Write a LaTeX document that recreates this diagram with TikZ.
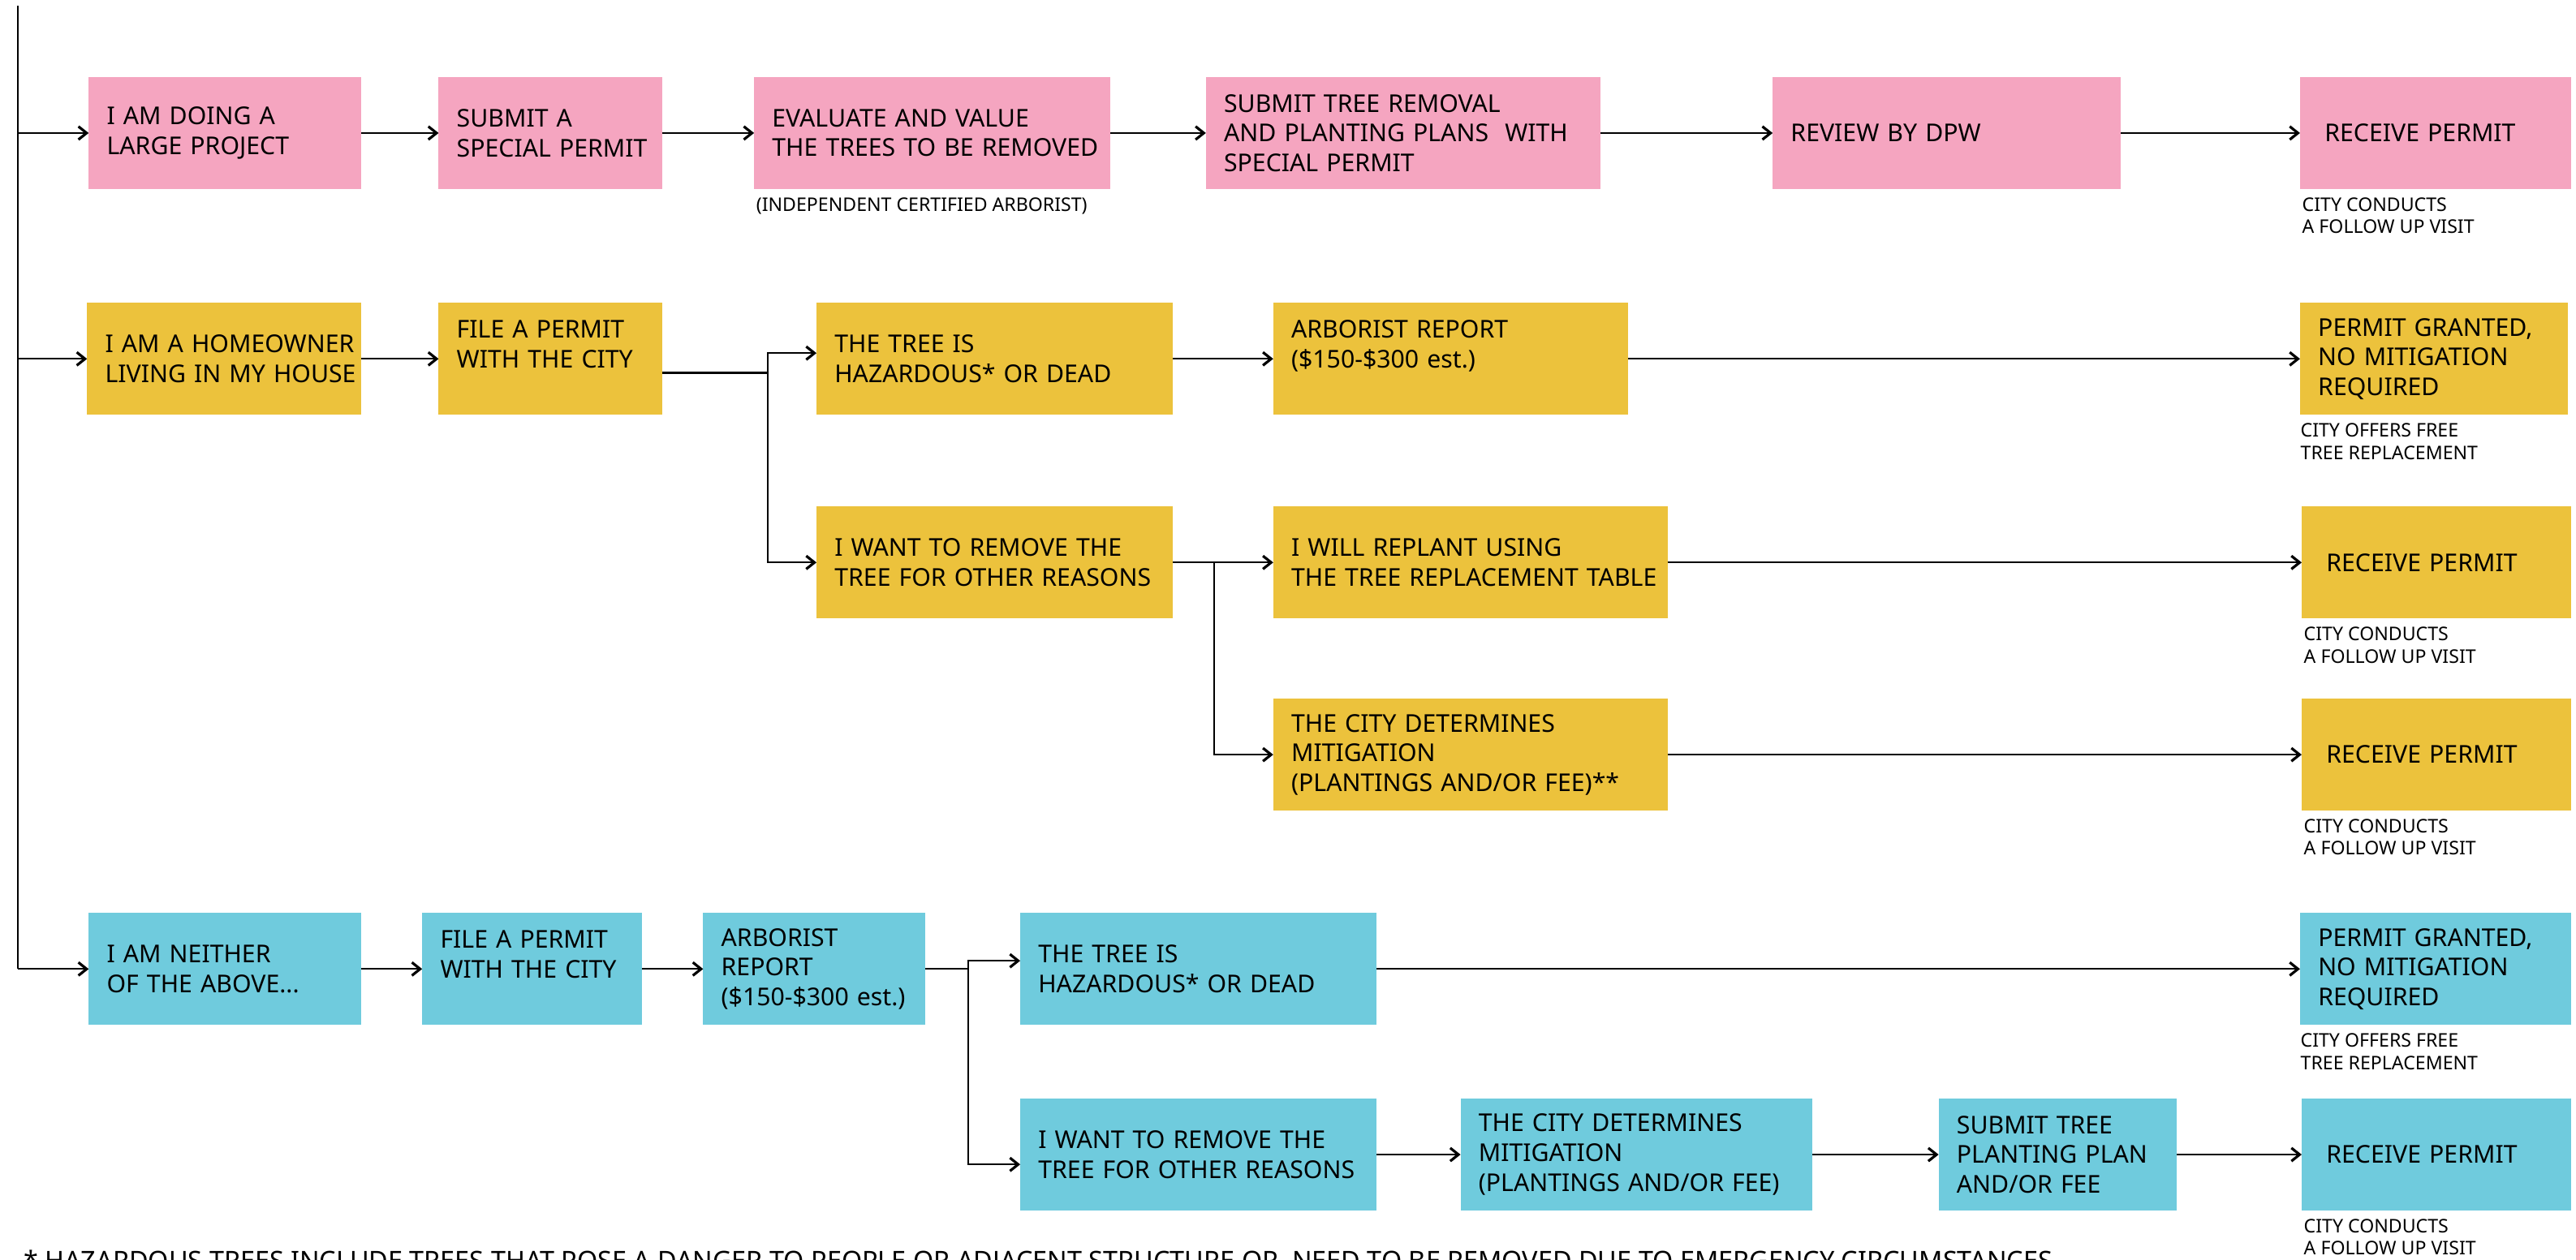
\documentclass[tikz,border=0pt]{standalone}
\usepackage{fontspec}
\setmainfont{Noto Sans}
\usepackage{tikz}
\usetikzlibrary{positioning, arrows.meta}
\definecolor{pinkfill}{HTML}{F5A5C0}
\definecolor{yellowfill}{HTML}{ECC23C}
\definecolor{bluefill}{HTML}{6FCBDD}
\newcommand{\boxfont}{\fontsize{8.5}{10.3}\selectfont}
\newcommand{\notefont}{\fontsize{6.5}{7.7}\selectfont}
\tikzset{
  flowbox/.style={rectangle, minimum height=1.36cm, inner xsep=0.06cm, inner ysep=0pt, outer sep=0pt, align=left, font=\boxfont,
    execute at begin node={\leftskip=0.16cm\hyphenpenalty=10000\exhyphenpenalty=10000}},
  largebox/.style={flowbox, fill=pinkfill},
  ownerbox/.style={flowbox, fill=yellowfill},
  otherbox/.style={flowbox, fill=bluefill},
  permitbox/.style={execute at begin node={\leftskip=0.24cm}},
  note/.style={inner sep=0pt, align=left, font=\notefont},
  flow/.style={-{Straight Barb[length=1mm,width=1.6mm,line width=0.9pt]}, line width=0.6pt},
  link/.style={line width=0.6pt}
}

\begin{document}
\begin{tikzpicture}
\useasboundingbox (0,0) rectangle (31.36,-15.34);
\clip (0,0) rectangle (31.36,-15.34);

\node[largebox, text width=3.20cm, anchor=west] (a1) at (1.08,-1.62) {I AM DOING A\\LARGE PROJECT};
\node[largebox, text width=2.60cm, right=0.94cm of a1] (a2) {SUBMIT A\\SPECIAL PERMIT};
\node[largebox, text width=4.22cm, right=1.12cm of a2] (a3) {EVALUATE AND VALUE\\THE TREES TO BE REMOVED};
\node[largebox, text width=4.68cm, right=1.16cm of a3] (a4) {SUBMIT TREE REMOVAL\\AND PLANTING PLANS\ \ WITH\\SPECIAL PERMIT};
\node[largebox, text width=4.12cm, right=2.10cm of a4] (a5) {REVIEW BY DPW};
\node[largebox, permitbox, text width=3.18cm, right=2.18cm of a5] (a6) {RECEIVE PERMIT};
\node[note, below right=0.1cm and 0.02cm of a3.south west] (a3note) {(INDEPENDENT CERTIFIED ARBORIST)};
\node[note, below right=0.1cm and 0.02cm of a6.south west] (a6note) {CITY CONDUCTS\\A FOLLOW UP VISIT};

\node[ownerbox, text width=3.22cm, anchor=west] (b1) at (1.06,-4.37) {I AM A HOMEOWNER\\LIVING IN MY HOUSE};
\node[ownerbox, text width=2.60cm, right=0.94cm of b1] (b2) {FILE A PERMIT\\WITH THE CITY\\~};
\node[ownerbox, text width=4.22cm, right=1.88cm of b2] (b3) {THE TREE IS\\HAZARDOUS* OR DEAD};
\node[ownerbox, text width=4.20cm, right=1.22cm of b3] (b4) {ARBORIST REPORT\\(\$150-\$300 est.)\\~};
\node[ownerbox, text width=3.14cm, right=8.18cm of b4] (b5) {PERMIT GRANTED,\\NO MITIGATION\\REQUIRED};
\node[note, below right=0.1cm and 0cm of b5.south west] (b5note) {CITY OFFERS FREE\\TREE REPLACEMENT};
\node[ownerbox, text width=4.22cm, below=1.12cm of b3] (b6) {I WANT TO REMOVE THE\\TREE FOR OTHER REASONS};
\node[ownerbox, text width=4.68cm, right=1.22cm of b6] (b7) {I WILL REPLANT USING\\THE TREE REPLACEMENT TABLE};
\node[ownerbox, permitbox, text width=3.16cm, right=7.72cm of b7] (b8) {RECEIVE PERMIT};
\node[note, below right=0.1cm and 0.02cm of b8.south west] (b8note) {CITY CONDUCTS\\A FOLLOW UP VISIT};
\node[ownerbox, text width=4.68cm, below=0.98cm of b7] (b9) {THE CITY DETERMINES\\MITIGATION\\(PLANTINGS AND/OR FEE)**};
\node[ownerbox, permitbox, text width=3.16cm, right=7.72cm of b9] (b10) {RECEIVE PERMIT};
\node[note, below right=0.1cm and 0.02cm of b10.south west] (b10note) {CITY CONDUCTS\\A FOLLOW UP VISIT};

\node[otherbox, text width=3.20cm, anchor=west] (c1) at (1.08,-11.80) {I AM NEITHER\\OF THE ABOVE...};
\node[otherbox, text width=2.56cm, right=0.74cm of c1] (c2) {FILE A PERMIT\\WITH THE CITY\\~};
\node[otherbox, text width=2.58cm, right=0.74cm of c2] (c3) {ARBORIST\\REPORT\\(\$150-\$300 est.)};
\node[otherbox, text width=4.22cm, right=1.16cm of c3] (c4) {THE TREE IS\\HAZARDOUS* OR DEAD};
\node[otherbox, text width=3.18cm, right=11.24cm of c4] (c5) {PERMIT GRANTED,\\NO MITIGATION\\REQUIRED};
\node[note, below right=0.1cm and 0cm of c5.south west] (c5note) {CITY OFFERS FREE\\TREE REPLACEMENT};
\node[otherbox, text width=4.22cm, below=0.90cm of c4] (c6) {I WANT TO REMOVE THE\\TREE FOR OTHER REASONS};
\node[otherbox, text width=4.16cm, right=1.02cm of c6] (c7) {THE CITY DETERMINES\\MITIGATION\\(PLANTINGS AND/OR FEE)};
\node[otherbox, text width=2.78cm, right=1.54cm of c7] (c8) {SUBMIT TREE\\PLANTING PLAN\\AND/OR FEE};
\node[otherbox, permitbox, text width=3.16cm, right=1.52cm of c8] (c9) {RECEIVE PERMIT};
\node[note, below right=0.1cm and 0.02cm of c9.south west] (c9note) {CITY CONDUCTS\\A FOLLOW UP VISIT};

\node[anchor=base west, inner sep=0pt, font=\fontsize{9.1}{11}\selectfont] (hazard) at (0.28,-15.47) {* HAZARDOUS TREES INCLUDE TREES THAT POSE A DANGER TO PEOPLE OR ADJACENT STRUCTURE OR\ \ NEED TO BE REMOVED DUE TO EMERGENCY CIRCUMSTANCES};

\coordinate (trunk) at (0.22,-0.07);
\draw[link] (trunk) -- (trunk |- c1.west);
\draw[flow] (trunk |- a1.west) -- (a1.west);
\draw[flow] (trunk |- b1.west) -- (b1.west);
\draw[flow] (trunk |- c1.west) -- (c1.west);

\foreach \s/\t in {a1/a2, a2/a3, a3/a4, a4/a5, a5/a6, b1/b2, b3/b4, b4/b5, b6/b7, b7/b8, b9/b10, c1/c2, c2/c3, c4/c5, c6/c7, c7/c8, c8/c9}
  \draw[flow] (\s) -- (\t);

\draw[link] ([yshift=-0.17cm]b2.east) -- ++(1.29,0) coordinate (b2split);
\draw[flow] (b2split) |- ([yshift=0.07cm]b3.west);
\draw[flow] (b2split) |- (b6.west);
\draw[flow] ([xshift=0.5cm]b6.east) |- (b9.west);

\draw[link] (c3.east) -- ++(0.53,0) coordinate (c3split);
\draw[flow] (c3split) |- ([yshift=0.1cm]c4.west);
\draw[flow] (c3split) |- ([yshift=-0.12cm]c6.west);
\end{tikzpicture}
\end{document}
